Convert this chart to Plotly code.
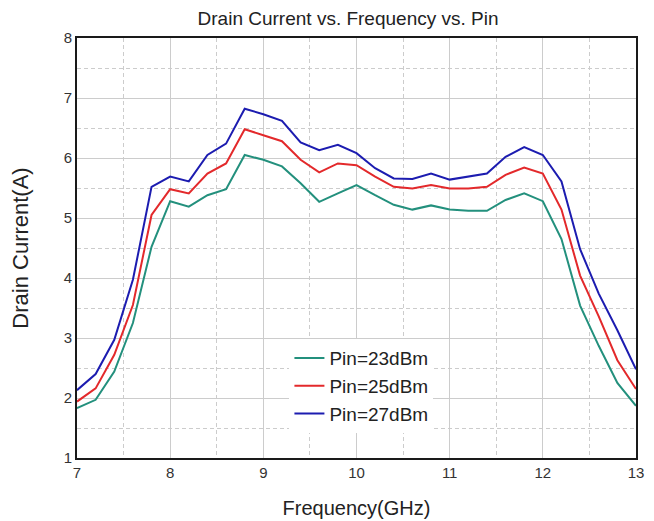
import plotly.graph_objects as go

# frequency points (GHz)
freq = [7.0, 7.2, 7.4, 7.6, 7.8, 8.0, 8.2, 8.4, 8.6, 8.8, 9.0, 9.2, 9.4, 9.6, 9.8,
        10.0, 10.2, 10.4, 10.6, 10.8, 11.0, 11.2, 11.4, 11.6, 11.8, 12.0, 12.2,
        12.4, 12.6, 12.8, 13.0]

# drain current (A) per input power
pin23 = [1.83, 1.97, 2.44, 3.25, 4.52, 5.28, 5.19, 5.38, 5.48, 6.05, 5.97, 5.86, 5.58,
         5.27, 5.41, 5.55, 5.38, 5.22, 5.14, 5.21, 5.14, 5.12, 5.12, 5.30, 5.41, 5.28,
         4.65, 3.54, 2.87, 2.25, 1.87]
pin25 = [1.94, 2.16, 2.72, 3.55, 5.05, 5.48, 5.41, 5.74, 5.91, 6.48, 6.38, 6.28, 5.97,
         5.76, 5.91, 5.88, 5.69, 5.52, 5.49, 5.55, 5.49, 5.49, 5.52, 5.72, 5.84, 5.74,
         5.14, 4.04, 3.36, 2.63, 2.15]
pin27 = [2.13, 2.40, 2.97, 3.97, 5.52, 5.69, 5.61, 6.05, 6.24, 6.82, 6.73, 6.62, 6.26,
         6.13, 6.22, 6.08, 5.83, 5.66, 5.65, 5.74, 5.64, 5.69, 5.74, 6.02, 6.18, 6.05,
         5.61, 4.48, 3.74, 3.13, 2.48]

series = [("Pin=23dBm", pin23, "#23907d"),
          ("Pin=25dBm", pin25, "#e3292b"),
          ("Pin=27dBm", pin27, "#1c1cb0")]

FONT = "Liberation Sans, Arial, sans-serif"
GRID = "#cccccc"

fig = go.Figure()
for name, vals, col in series:
    fig.add_trace(go.Scatter(x=freq, y=vals, mode="lines", name=name,
                             line=dict(color=col, width=2)))

axis_common = dict(
    showline=True, linecolor="#1a1a1a", linewidth=2, mirror=True,
    showgrid=True, gridcolor=GRID, gridwidth=1,
    zeroline=False, ticks="", automargin=False, ticklabeloverflow="allow",
    tickfont=dict(family=FONT, size=15, color="#333"),
)

# page body adds an 8px offset; figure kept inside the visible 646px
fig.update_layout(
    width=638, height=513,
    margin=dict(l=69, r=10, t=30, b=63),
    paper_bgcolor="white", plot_bgcolor="white",
    font=dict(family=FONT, color="#222"),
    title=dict(text="Drain Current vs. Frequency vs. Pin", x=0.533, xanchor="center",
               y=0.98, yanchor="middle", font=dict(family=FONT, size=19, color="#222")),
    xaxis=dict(**axis_common, range=[7, 13], dtick=1,
               minor=dict(dtick=0.5, showgrid=True, gridcolor=GRID, griddash="4px,3px"),
               title=dict(text="Frequency(GHz)", font=dict(family=FONT, size=20, color="#222"),
                          standoff=21)),
    yaxis=dict(**axis_common, range=[1, 8], dtick=1,
               minor=dict(dtick=0.5, showgrid=True, gridcolor=GRID, griddash="4px,3px"),
               title=dict(text="Drain Current(A)", font=dict(family=FONT, size=22, color="#222"),
                          standoff=36)),
    legend=dict(x=0.38, y=0.283, xanchor="left", yanchor="top",
                bgcolor="white", borderwidth=0,
                font=dict(family=FONT, size=19, color="#222"),
                tracegroupgap=0),
    showlegend=True,
)

fig.write_html("out.html")
